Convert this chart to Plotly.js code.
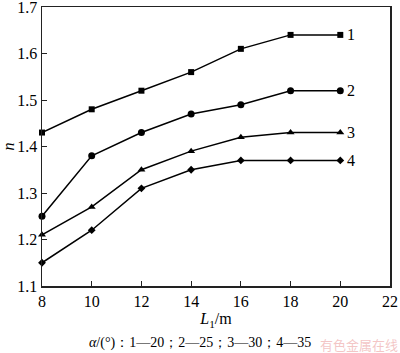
<!DOCTYPE html>
<html><head><meta charset="utf-8">
<script src="https://cdn.plot.ly/plotly-3.0.1.min.js"></script>
<style>body{margin:0;background:#fff}#c{width:400px;height:353px}</style>
</head><body><div id="c"></div>
<script>
const L1 = [8, 10, 12, 14, 16, 18, 20];
const n1 = [1.43, 1.48, 1.52, 1.56, 1.61, 1.64, 1.64];
const n2 = [1.25, 1.38, 1.43, 1.47, 1.49, 1.52, 1.52];
const n3 = [1.21, 1.27, 1.35, 1.39, 1.42, 1.43, 1.43];
const n4 = [1.15, 1.22, 1.31, 1.35, 1.37, 1.37, 1.37];
const seriesLabels = ['1', '2', '3', '4'];
const xTicks = [8, 10, 12, 14, 16, 18, 20, 22];
const yTicks = [1.1, 1.2, 1.3, 1.4, 1.5, 1.6, 1.7];

const serif = 'Liberation Serif, Times New Roman, serif';
const series = [n1, n2, n3, n4];
const symbols = ['square', 'circle', 'triangle-up', 'diamond'];
const sizes = [6, 7, 7, 6];
const traces = series.map((ys, i) => ({
  x: L1, y: ys, type: 'scatter', mode: 'lines+markers',
  line: {color: '#000', width: 1.5},
  marker: {symbol: symbols[i], size: sizes[i], color: '#000'},
  showlegend: false, hoverinfo: 'skip', cliponaxis: false
}));

const annotations = series.map((ys, i) => ({
  x: L1[L1.length - 1], y: ys[ys.length - 1], xref: 'x', yref: 'y',
  text: seriesLabels[i], showarrow: false, xanchor: 'left', xshift: 5,
  font: {family: serif, size: 16, color: '#000'}
}));
annotations.push({
  xref: 'paper', yref: 'paper', x: 0.455, y: -0.205, yanchor: 'middle',
  text: '<i>α</i>/(°)：1—20；2—25；3—30；4—35', showarrow: false,
  font: {family: serif, size: 14, color: '#000'}
});
annotations.push({
  xref: 'paper', yref: 'paper', x: 1.03, y: -0.21, xanchor: 'right', yanchor: 'middle',
  text: '有色金属在线', showarrow: false,
  font: {family: 'Noto Sans CJK SC', size: 13, color: 'rgba(235,160,160,0.6)'}
});

const layout = {
  width: 400, height: 353,
  margin: {l: 42, r: 10, t: 7, b: 67},
  paper_bgcolor: '#fff', plot_bgcolor: '#fff',
  xaxis: {
    range: [8, 22], tickvals: xTicks, ticktext: xTicks.map(String),
    ticks: 'inside', ticklen: 5, tickcolor: '#222', tickwidth: 1, ticklabeloverflow: 'allow',
    showgrid: false, zeroline: false, showline: true, linecolor: '#222', linewidth: 1.5, mirror: true,
    tickfont: {family: serif, size: 16, color: '#000'},
    title: {text: '<i>L</i><sub>1</sub>/m', font: {family: serif, size: 16, color: '#000'}, standoff: 4}
  },
  yaxis: {
    range: [1.1, 1.7], tickvals: yTicks, ticktext: yTicks.map(v => v.toFixed(1)),
    ticks: 'inside', ticklen: 5, tickcolor: '#222', tickwidth: 1, ticklabeloverflow: 'allow',
    showgrid: false, zeroline: false, showline: true, linecolor: '#222', linewidth: 1.5, mirror: true,
    tickfont: {family: serif, size: 16, color: '#000'},
    title: {text: '<i>n</i>', font: {family: serif, size: 16, color: '#000'}, standoff: 4}
  },
  annotations: annotations
};
Plotly.newPlot('c', traces, layout, {staticPlot: true, displayModeBar: false});
</script></body></html>
